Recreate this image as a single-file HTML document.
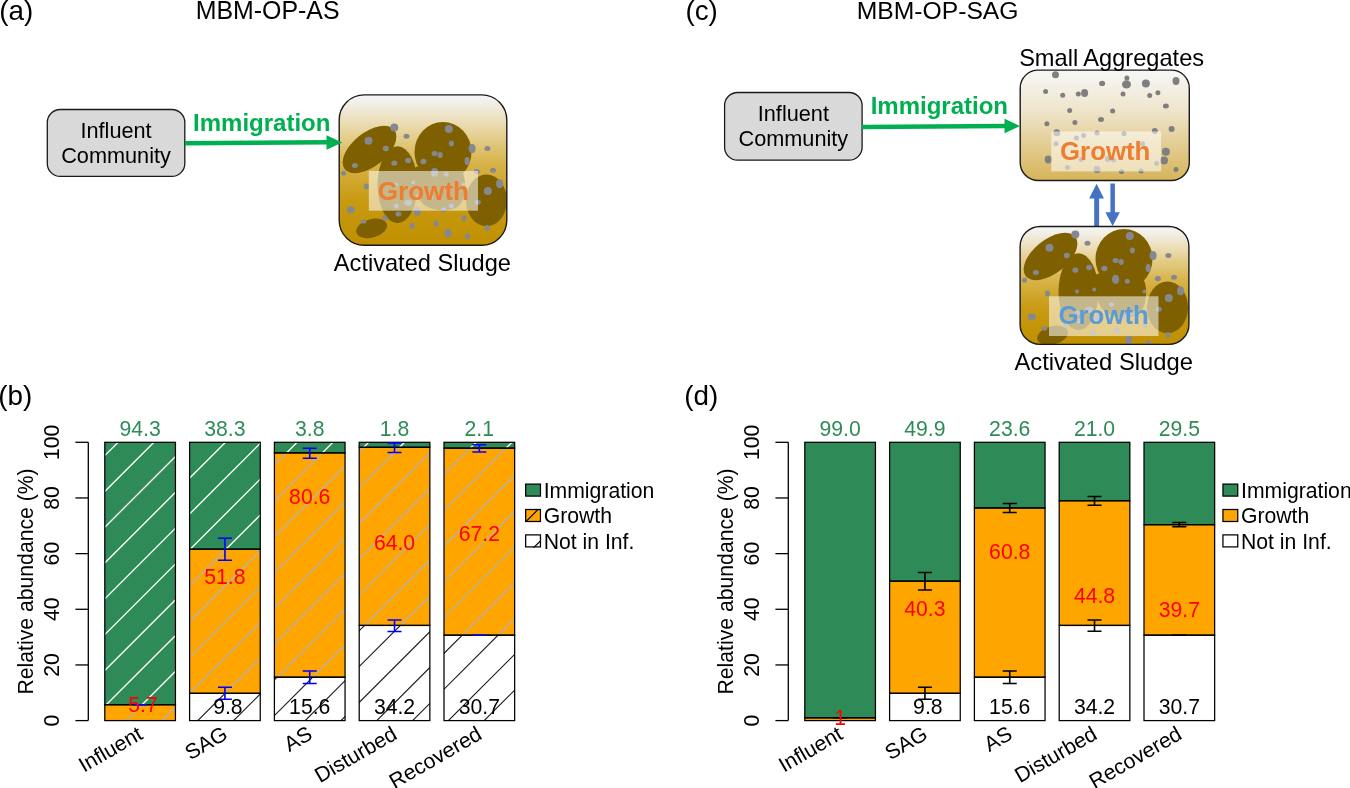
<!DOCTYPE html>
<html><head><meta charset="utf-8"><title>MBM-OP</title>
<style>html,body{margin:0;padding:0;background:#fff;}svg{display:block;will-change:transform;}text{font-family:"Liberation Sans",sans-serif;}</style>
</head><body>
<svg width="1350" height="788" viewBox="0 0 1350 788" font-family="Liberation Sans, sans-serif">
<rect width="1350" height="788" fill="#fff"/>

<defs>
<pattern id="hw" patternUnits="userSpaceOnUse" width="35.8" height="35.8" x="23.400" y="0">
<path d="M-35.8,35.8 L35.8,-35.8 M0,71.6 L71.6,0 M0,35.8 L35.8,0" stroke="#FFFFFF" stroke-width="1.3"/></pattern>
<pattern id="hg" patternUnits="userSpaceOnUse" width="35.8" height="35.8" x="23.400" y="0">
<path d="M-35.8,35.8 L35.8,-35.8 M0,71.6 L71.6,0 M0,35.8 L35.8,0" stroke="#B4B4B4" stroke-width="1.3"/></pattern>
<pattern id="hb" patternUnits="userSpaceOnUse" width="35.8" height="35.8" x="23.400" y="0">
<path d="M-35.8,35.8 L35.8,-35.8 M0,71.6 L71.6,0 M0,35.8 L35.8,0" stroke="#1A1A1A" stroke-width="1.2"/></pattern>
<linearGradient id="gAS" x1="0" y1="0" x2="0" y2="1">
<stop offset="0" stop-color="#F6F6F4"/><stop offset="0.06" stop-color="#F1EEE6"/><stop offset="0.18" stop-color="#EBDDB6"/><stop offset="0.45" stop-color="#D8B44A"/><stop offset="0.7" stop-color="#C89A12"/><stop offset="1" stop-color="#C09000"/>
</linearGradient>
<linearGradient id="gSA" x1="0" y1="0" x2="0" y2="1">
<stop offset="0" stop-color="#F7F7F7"/><stop offset="0.35" stop-color="#EFE6CE"/><stop offset="0.75" stop-color="#E0C785"/><stop offset="1" stop-color="#D6B459"/>
</linearGradient>
<clipPath id="clipA"><rect x="339.2" y="94.9" width="167.6" height="150.4" rx="25"/></clipPath>
<clipPath id="clipC"><rect x="1020.1" y="226.5" width="168.8" height="117.9" rx="20"/></clipPath>
<clipPath id="clipS"><rect x="1020.2" y="70.1" width="169.1" height="110.4" rx="18"/></clipPath>
<g id="sludge"><ellipse cx="397.5" cy="184.7" rx="20" ry="38.5" fill="#7F6000"/>
<path d="M415,168 C413.5,188 417,202 428,207 C436,211.5 450,211.5 457.5,207 C463,203 465.5,193 465,182 C464.5,172 459,165 450,162 Z" fill="#7F6000"/>
<ellipse cx="417.5" cy="173" rx="4" ry="6.5" fill="#7F6000"/>
<ellipse cx="443" cy="152" rx="28.5" ry="30" fill="#7F6000"/>
<ellipse cx="369.5" cy="149.5" rx="31.6" ry="16.9" transform="rotate(-38.5 369.5 149.5)" fill="#7F6000"/>
<ellipse cx="486.5" cy="200.4" rx="20.5" ry="25.8" fill="#7F6000"/>
<ellipse cx="371.6" cy="228.4" rx="15.8" ry="9.2" transform="rotate(-15 371.6 228.4)" fill="#7F6000"/>
<ellipse cx="394.3" cy="127.6" rx="4" ry="4" fill="#868890"/>
<ellipse cx="406.5" cy="136.3" rx="3" ry="2.5" fill="#868890"/>
<ellipse cx="368.5" cy="140.8" rx="4" ry="4" fill="#868890"/>
<ellipse cx="385.8" cy="148.5" rx="3" ry="2.7" fill="#868890"/>
<ellipse cx="354.9" cy="165.5" rx="3" ry="2.5" fill="#868890"/>
<ellipse cx="343.5" cy="173.2" rx="2.5" ry="2.5" fill="#868890"/>
<ellipse cx="394.3" cy="163.1" rx="3" ry="2.7" fill="#868890"/>
<ellipse cx="408.1" cy="160.5" rx="3" ry="2.7" fill="#868890"/>
<ellipse cx="423.4" cy="161.5" rx="3" ry="2.7" fill="#868890"/>
<ellipse cx="434.6" cy="153.4" rx="3" ry="2.5" fill="#868890"/>
<ellipse cx="440.2" cy="155" rx="2.5" ry="3" fill="#868890"/>
<ellipse cx="448.8" cy="129" rx="4" ry="4" fill="#868890"/>
<ellipse cx="451.4" cy="143.4" rx="2.5" ry="3" fill="#868890"/>
<ellipse cx="472.1" cy="148.5" rx="3.5" ry="4.5" fill="#868890"/>
<ellipse cx="487.4" cy="148.5" rx="3" ry="2.5" fill="#868890"/>
<ellipse cx="467.1" cy="161" rx="2.5" ry="4" fill="#868890"/>
<ellipse cx="493" cy="170.2" rx="3" ry="2.5" fill="#868890"/>
<ellipse cx="476.8" cy="171.6" rx="3" ry="2.7" fill="#868890"/>
<ellipse cx="499.6" cy="183.8" rx="3.5" ry="4.5" fill="#868890"/>
<ellipse cx="487.8" cy="191.1" rx="4" ry="4" fill="#868890"/>
<ellipse cx="477.8" cy="202.3" rx="3" ry="2.5" fill="#868890"/>
<ellipse cx="366.5" cy="186.4" rx="2.5" ry="3" fill="#868890"/>
<ellipse cx="350.8" cy="209.8" rx="4" ry="3.5" fill="#868890"/>
<ellipse cx="363.4" cy="221.6" rx="3" ry="2" fill="#868890"/>
<ellipse cx="384.8" cy="217.9" rx="2.5" ry="3" fill="#868890"/>
<ellipse cx="398.4" cy="213.9" rx="3" ry="2.5" fill="#868890"/>
<ellipse cx="417.3" cy="211.2" rx="3.5" ry="4.5" fill="#868890"/>
<ellipse cx="412.2" cy="226" rx="2.5" ry="3" fill="#868890"/>
<ellipse cx="436.2" cy="223.6" rx="2.5" ry="3" fill="#868890"/>
<ellipse cx="447.8" cy="233.2" rx="3.5" ry="4.5" fill="#868890"/>
<ellipse cx="464" cy="218.3" rx="2.5" ry="3" fill="#868890"/>
<ellipse cx="467.5" cy="236.6" rx="2.5" ry="3" fill="#868890"/>
<ellipse cx="487" cy="228.1" rx="2.5" ry="3" fill="#868890"/>
<ellipse cx="434.6" cy="172.2" rx="3.5" ry="4.5" fill="#868890"/>
<ellipse cx="446.3" cy="174.3" rx="2.5" ry="2.5" fill="#868890"/>
<ellipse cx="408.1" cy="202.7" rx="4" ry="3" fill="#868890"/>
<ellipse cx="396.4" cy="206.1" rx="2.5" ry="2.5" fill="#868890"/>
<ellipse cx="451.2" cy="206.1" rx="2.5" ry="2.5" fill="#868890"/>
<ellipse cx="443.7" cy="209.8" rx="2.5" ry="2.5" fill="#868890"/>
<ellipse cx="463.4" cy="184.4" rx="2" ry="2" fill="#868890"/>
<ellipse cx="413.2" cy="182.4" rx="2" ry="2" fill="#868890"/>
<ellipse cx="396" cy="184.4" rx="2" ry="2" fill="#868890"/>
<ellipse cx="430.5" cy="197.6" rx="2.5" ry="2.5" fill="#868890"/></g>
<marker id="ag" markerWidth="10" markerHeight="10" refX="0" refY="0"/>
</defs>
<text x="-0.8" y="20.4" font-size="27.8">(a)</text>
<text x="195.7" y="19" font-size="24.9">MBM-OP-AS</text>
<rect x="47.3" y="109.5" width="137.5" height="66.9" rx="13" fill="#D9D9D9" stroke="#1A1A1A" stroke-width="1.3"/>
<text x="116.05" y="137.7" text-anchor="middle" font-size="21.7">Influent</text>
<text x="116.05" y="162.6" text-anchor="middle" font-size="21.7">Community</text>
<text x="193.1" y="130.9" font-size="24" font-weight="bold" fill="#00B050">Immigration</text>
<rect x="339.2" y="94.9" width="167.6" height="150.4" rx="25" fill="url(#gAS)"/>
<g clip-path="url(#clipA)"><use href="#sludge"/></g>
<rect x="368.8" y="171" width="109.2" height="39.7" fill="#FFFFFF" fill-opacity="0.55"/>
<text x="423.4" y="200" text-anchor="middle" font-size="26.1" font-weight="bold" fill="#ED7D31">Growth</text>
<rect x="339.2" y="94.9" width="167.6" height="150.4" rx="25" fill="none" stroke="#1A1A1A" stroke-width="1.4"/>
<text x="422.4" y="270.8" text-anchor="middle" font-size="23.6">Activated Sludge</text>
<path d="M185,143.2 L327,142.3" stroke="#00B050" stroke-width="4.6"/>
<path d="M326.5,135.2 L342.2,142.4 L326.5,149.8Z" fill="#00B050"/>
<text x="685.4" y="20.4" font-size="27.8">(c)</text>
<text x="856.7" y="18.9" font-size="24.7">MBM-OP-SAG</text>
<rect x="724.6" y="92.5" width="137.5" height="67.7" rx="13" fill="#D9D9D9" stroke="#1A1A1A" stroke-width="1.3"/>
<text x="793.35" y="121.2" text-anchor="middle" font-size="21.7">Influent</text>
<text x="793.35" y="146.2" text-anchor="middle" font-size="21.7">Community</text>
<text x="870.7" y="114.4" font-size="24" font-weight="bold" fill="#00B050">Immigration</text>
<rect x="1020.2" y="70.1" width="169.1" height="110.4" rx="18" fill="url(#gSA)"/>
<g clip-path="url(#clipS)"><ellipse cx="1055.5" cy="74.8" rx="3.5" ry="3.5" fill="#7F7F7F"/><ellipse cx="1045.6" cy="91.4" rx="2.5" ry="2.5" fill="#7F7F7F"/><ellipse cx="1062.7" cy="95.2" rx="2.5" ry="2.5" fill="#7F7F7F"/><ellipse cx="1078.3" cy="93.9" rx="2.5" ry="2.5" fill="#7F7F7F"/><ellipse cx="1084.6" cy="92.9" rx="3.5" ry="4" fill="#7F7F7F"/><ellipse cx="1102.1" cy="83.4" rx="3" ry="2.7" fill="#7F7F7F"/><ellipse cx="1126.9" cy="78.1" rx="2.5" ry="2.5" fill="#7F7F7F"/><ellipse cx="1126.5" cy="84.4" rx="4.5" ry="4.2" fill="#7F7F7F"/><ellipse cx="1145.9" cy="83.4" rx="4" ry="4" fill="#7F7F7F"/><ellipse cx="1176" cy="80.9" rx="3.5" ry="4" fill="#7F7F7F"/><ellipse cx="1123" cy="93.9" rx="2.5" ry="2.5" fill="#7F7F7F"/><ellipse cx="1149.7" cy="95.6" rx="2.5" ry="2.5" fill="#7F7F7F"/><ellipse cx="1157.9" cy="92.7" rx="2.5" ry="2.5" fill="#7F7F7F"/><ellipse cx="1165.9" cy="105.9" rx="3" ry="2.5" fill="#7F7F7F"/><ellipse cx="1069.7" cy="110.4" rx="2.5" ry="2.5" fill="#7F7F7F"/><ellipse cx="1112.6" cy="111" rx="2.5" ry="2.5" fill="#7F7F7F"/><ellipse cx="1046.9" cy="123.8" rx="2.5" ry="2.5" fill="#7F7F7F"/><ellipse cx="1074.9" cy="122.4" rx="2.5" ry="2.5" fill="#7F7F7F"/><ellipse cx="1101" cy="119.6" rx="3" ry="2.5" fill="#7F7F7F"/><ellipse cx="1171.6" cy="129.1" rx="3" ry="3" fill="#7F7F7F"/><ellipse cx="1154.8" cy="131" rx="3" ry="3" fill="#7F7F7F"/><ellipse cx="1056.8" cy="132.7" rx="3.5" ry="3.5" fill="#7F7F7F"/><ellipse cx="1165.9" cy="151.8" rx="4" ry="4" fill="#7F7F7F"/><ellipse cx="1164" cy="160.5" rx="4" ry="4" fill="#7F7F7F"/><ellipse cx="1048.2" cy="159.6" rx="3.5" ry="4" fill="#7F7F7F"/><ellipse cx="1176" cy="169.5" rx="2.5" ry="2.5" fill="#7F7F7F"/><ellipse cx="1121.5" cy="171.4" rx="2.5" ry="2.5" fill="#7F7F7F"/><ellipse cx="1141.1" cy="171" rx="2.5" ry="2.5" fill="#7F7F7F"/><ellipse cx="1097" cy="169.5" rx="3.5" ry="3.5" fill="#7F7F7F"/><ellipse cx="1076.4" cy="138.1" rx="2.5" ry="2.5" fill="#7F7F7F"/><ellipse cx="1083.6" cy="135.6" rx="2.5" ry="2.5" fill="#7F7F7F"/><ellipse cx="1097" cy="133" rx="2.5" ry="2.5" fill="#7F7F7F"/><ellipse cx="1124" cy="133.7" rx="2.5" ry="2.5" fill="#7F7F7F"/><ellipse cx="1056" cy="143.8" rx="2.5" ry="2.5" fill="#7F7F7F"/><ellipse cx="1067.5" cy="167.6" rx="2.5" ry="2.5" fill="#7F7F7F"/><ellipse cx="1081" cy="159.6" rx="2.5" ry="2.5" fill="#7F7F7F"/><ellipse cx="1107.8" cy="159" rx="3" ry="3" fill="#7F7F7F"/><ellipse cx="1113.5" cy="160" rx="2.5" ry="2.5" fill="#7F7F7F"/><ellipse cx="1156.6" cy="163.4" rx="2.5" ry="2.5" fill="#7F7F7F"/><ellipse cx="1142.6" cy="143.8" rx="2.5" ry="2.5" fill="#7F7F7F"/></g>
<rect x="1051.3" y="131.4" width="109.8" height="40" fill="#FFFFFF" fill-opacity="0.55"/>
<text x="1105.2" y="160" text-anchor="middle" font-size="25.8" font-weight="bold" fill="#ED7D31">Growth</text>
<rect x="1020.2" y="70.1" width="169.1" height="110.4" rx="18" fill="none" stroke="#1A1A1A" stroke-width="1.4"/>
<text x="1111.6" y="66.4" text-anchor="middle" font-size="23.6">Small Aggregates</text>
<path d="M862,127 L1005,126" stroke="#00B050" stroke-width="4.6"/>
<path d="M1004.5,118.8 L1020,126 L1004.5,133.3Z" fill="#00B050"/>
<path d="M1094.2,226.1 V198.4 H1089.1 L1096.6,183.8 L1104,198.4 H1099.1 V226.1Z" fill="#4472C4"/>
<path d="M1110.4,183.5 V212.2 H1105.4 L1112.6,226.1 L1119.9,212.2 H1114.9 V183.5Z" fill="#4472C4"/>
<rect x="1020.1" y="226.5" width="168.8" height="117.9" rx="20" fill="url(#gAS)"/>
<g clip-path="url(#clipC)"><use href="#sludge" transform="translate(681,107)"/></g>
<rect x="1049" y="296.3" width="109.5" height="39.7" fill="#FFFFFF" fill-opacity="0.55"/>
<text x="1103.6" y="323.9" text-anchor="middle" font-size="25.8" font-weight="bold" fill="#5B9BD5">Growth</text>
<rect x="1020.1" y="226.5" width="168.8" height="117.9" rx="20" fill="none" stroke="#1A1A1A" stroke-width="1.4"/>
<text x="1103.7" y="370.1" text-anchor="middle" font-size="23.8">Activated Sludge</text>
<text x="-1.7" y="404.8" font-size="27.8">(b)</text>
<text x="684.3" y="404.8" font-size="27.8">(d)</text>
<path d="M88.3,442.3V720.6" stroke="#000" stroke-width="1.3" fill="none"/>
<path d="M75.39999999999999,720.60H88.3" stroke="#000" stroke-width="1.3"/>
<text transform="translate(58.6,720.60) rotate(-90)" text-anchor="middle" font-size="21.2">0</text>
<path d="M75.39999999999999,664.94H88.3" stroke="#000" stroke-width="1.3"/>
<text transform="translate(58.6,664.94) rotate(-90)" text-anchor="middle" font-size="21.2">20</text>
<path d="M75.39999999999999,609.28H88.3" stroke="#000" stroke-width="1.3"/>
<text transform="translate(58.6,609.28) rotate(-90)" text-anchor="middle" font-size="21.2">40</text>
<path d="M75.39999999999999,553.62H88.3" stroke="#000" stroke-width="1.3"/>
<text transform="translate(58.6,553.62) rotate(-90)" text-anchor="middle" font-size="21.2">60</text>
<path d="M75.39999999999999,497.96H88.3" stroke="#000" stroke-width="1.3"/>
<text transform="translate(58.6,497.96) rotate(-90)" text-anchor="middle" font-size="21.2">80</text>
<path d="M75.39999999999999,442.30H88.3" stroke="#000" stroke-width="1.3"/>
<text transform="translate(58.6,442.30) rotate(-90)" text-anchor="middle" font-size="21.2">100</text>
<text transform="translate(33.2,581.4) rotate(-90)" text-anchor="middle" font-size="21.2">Relative abundance (%)</text>
<rect x="104.80" y="704.74" width="70.65" height="15.86" fill="#FFA500"/>
<clipPath id="hc1"><rect x="104.80" y="704.74" width="70.65" height="15.86"/></clipPath><path clip-path="url(#hc1)" d="M52.60,722.60L72.46,702.74M88.40,722.60L108.26,702.74M124.20,722.60L144.06,702.74M160.00,722.60L179.86,702.74M195.80,722.60L215.66,702.74" stroke="#B2B2B2" stroke-width="1.3" fill="none"/>
<rect x="104.80" y="442.30" width="70.65" height="262.44" fill="#2E8B57"/>
<clipPath id="hc2"><rect x="104.80" y="442.30" width="70.65" height="262.44"/></clipPath><path clip-path="url(#hc2)" d="M-182.14,706.74L84.30,440.30M-146.34,706.74L120.10,440.30M-110.54,706.74L155.90,440.30M-74.74,706.74L191.70,440.30M-38.94,706.74L227.50,440.30M-3.14,706.74L263.30,440.30M32.66,706.74L299.10,440.30M68.46,706.74L334.90,440.30M104.26,706.74L370.70,440.30M140.06,706.74L406.50,440.30M175.86,706.74L442.30,440.30" stroke="#FFFFFF" stroke-width="1.35" fill="none"/>
<rect x="104.80" y="704.74" width="70.65" height="15.86" fill="none" stroke="#000" stroke-width="1.25"/>
<rect x="104.80" y="442.30" width="70.65" height="262.44" fill="none" stroke="#000" stroke-width="1.25"/>
<rect x="189.60" y="693.33" width="70.65" height="27.27" fill="#FFFFFF"/>
<clipPath id="hc3"><rect x="189.60" y="693.33" width="70.65" height="27.27"/></clipPath><path clip-path="url(#hc3)" d="M160.00,722.60L191.27,691.33M195.80,722.60L227.07,691.33M231.60,722.60L262.87,691.33M267.40,722.60L298.67,691.33" stroke="#1E1E1E" stroke-width="1.15" fill="none"/>
<rect x="189.60" y="549.17" width="70.65" height="144.16" fill="#FFA500"/>
<clipPath id="hc4"><rect x="189.60" y="549.17" width="70.65" height="144.16"/></clipPath><path clip-path="url(#hc4)" d="M8.27,695.33L156.43,547.17M44.07,695.33L192.23,547.17M79.87,695.33L228.03,547.17M115.67,695.33L263.83,547.17M151.47,695.33L299.63,547.17M187.27,695.33L335.43,547.17M223.07,695.33L371.23,547.17M258.87,695.33L407.03,547.17" stroke="#B2B2B2" stroke-width="1.3" fill="none"/>
<rect x="189.60" y="442.30" width="70.65" height="106.87" fill="#2E8B57"/>
<clipPath id="hc5"><rect x="189.60" y="442.30" width="70.65" height="106.87"/></clipPath><path clip-path="url(#hc5)" d="M45.03,551.17L155.90,440.30M80.83,551.17L191.70,440.30M116.63,551.17L227.50,440.30M152.43,551.17L263.30,440.30M188.23,551.17L299.10,440.30M224.03,551.17L334.90,440.30M259.83,551.17L370.70,440.30" stroke="#FFFFFF" stroke-width="1.35" fill="none"/>
<rect x="189.60" y="693.33" width="70.65" height="27.27" fill="none" stroke="#000" stroke-width="1.25"/>
<rect x="189.60" y="549.17" width="70.65" height="144.16" fill="none" stroke="#000" stroke-width="1.25"/>
<rect x="189.60" y="442.30" width="70.65" height="106.87" fill="none" stroke="#000" stroke-width="1.25"/>
<rect x="274.40" y="677.19" width="70.65" height="43.41" fill="#FFFFFF"/>
<clipPath id="hc6"><rect x="274.40" y="677.19" width="70.65" height="43.41"/></clipPath><path clip-path="url(#hc6)" d="M195.80,722.60L243.21,675.19M231.60,722.60L279.01,675.19M267.40,722.60L314.81,675.19M303.20,722.60L350.61,675.19M339.00,722.60L386.41,675.19M374.80,722.60L422.21,675.19" stroke="#1E1E1E" stroke-width="1.15" fill="none"/>
<rect x="274.40" y="452.88" width="70.65" height="224.31" fill="#FFA500"/>
<clipPath id="hc7"><rect x="274.40" y="452.88" width="70.65" height="224.31"/></clipPath><path clip-path="url(#hc7)" d="M24.41,679.19L252.72,450.88M60.21,679.19L288.52,450.88M96.01,679.19L324.32,450.88M131.81,679.19L360.12,450.88M167.61,679.19L395.92,450.88M203.41,679.19L431.72,450.88M239.21,679.19L467.52,450.88M275.01,679.19L503.32,450.88M310.81,679.19L539.12,450.88M346.61,679.19L574.92,450.88" stroke="#B2B2B2" stroke-width="1.3" fill="none"/>
<rect x="274.40" y="442.30" width="70.65" height="10.58" fill="#2E8B57"/>
<clipPath id="hc8"><rect x="274.40" y="442.30" width="70.65" height="10.58"/></clipPath><path clip-path="url(#hc8)" d="M248.72,454.88L263.30,440.30M284.52,454.88L299.10,440.30M320.32,454.88L334.90,440.30M356.12,454.88L370.70,440.30" stroke="#FFFFFF" stroke-width="1.35" fill="none"/>
<rect x="274.40" y="677.19" width="70.65" height="43.41" fill="none" stroke="#000" stroke-width="1.25"/>
<rect x="274.40" y="452.88" width="70.65" height="224.31" fill="none" stroke="#000" stroke-width="1.25"/>
<rect x="274.40" y="442.30" width="70.65" height="10.58" fill="none" stroke="#000" stroke-width="1.25"/>
<rect x="359.20" y="625.42" width="70.65" height="95.18" fill="#FFFFFF"/>
<clipPath id="hc9"><rect x="359.20" y="625.42" width="70.65" height="95.18"/></clipPath><path clip-path="url(#hc9)" d="M231.60,722.60L330.78,623.42M267.40,722.60L366.58,623.42M303.20,722.60L402.38,623.42M339.00,722.60L438.18,623.42M374.80,722.60L473.98,623.42M410.60,722.60L509.78,623.42M446.40,722.60L545.58,623.42" stroke="#1E1E1E" stroke-width="1.15" fill="none"/>
<rect x="359.20" y="447.31" width="70.65" height="178.11" fill="#FFA500"/>
<clipPath id="hc10"><rect x="359.20" y="447.31" width="70.65" height="178.11"/></clipPath><path clip-path="url(#hc10)" d="M147.78,627.42L329.89,445.31M183.58,627.42L365.69,445.31M219.38,627.42L401.49,445.31M255.18,627.42L437.29,445.31M290.98,627.42L473.09,445.31M326.78,627.42L508.89,445.31M362.58,627.42L544.69,445.31M398.38,627.42L580.49,445.31M434.18,627.42L616.29,445.31" stroke="#B2B2B2" stroke-width="1.3" fill="none"/>
<rect x="359.20" y="442.30" width="70.65" height="5.01" fill="#2E8B57"/>
<clipPath id="hc11"><rect x="359.20" y="442.30" width="70.65" height="5.01"/></clipPath><path clip-path="url(#hc11)" d="M325.89,449.31L334.90,440.30M361.69,449.31L370.70,440.30M397.49,449.31L406.50,440.30M433.29,449.31L442.30,440.30" stroke="#FFFFFF" stroke-width="1.35" fill="none"/>
<rect x="359.20" y="625.42" width="70.65" height="95.18" fill="none" stroke="#000" stroke-width="1.25"/>
<rect x="359.20" y="447.31" width="70.65" height="178.11" fill="none" stroke="#000" stroke-width="1.25"/>
<rect x="359.20" y="442.30" width="70.65" height="5.01" fill="none" stroke="#000" stroke-width="1.25"/>
<rect x="444.00" y="635.16" width="70.65" height="85.44" fill="#FFFFFF"/>
<clipPath id="hc12"><rect x="444.00" y="635.16" width="70.65" height="85.44"/></clipPath><path clip-path="url(#hc12)" d="M339.00,722.60L428.44,633.16M374.80,722.60L464.24,633.16M410.60,722.60L500.04,633.16M446.40,722.60L535.84,633.16M482.20,722.60L571.64,633.16M518.00,722.60L607.44,633.16" stroke="#1E1E1E" stroke-width="1.15" fill="none"/>
<rect x="444.00" y="448.14" width="70.65" height="187.02" fill="#FFA500"/>
<clipPath id="hc13"><rect x="444.00" y="448.14" width="70.65" height="187.02"/></clipPath><path clip-path="url(#hc13)" d="M245.44,637.16L436.46,446.14M281.24,637.16L472.26,446.14M317.04,637.16L508.06,446.14M352.84,637.16L543.86,446.14M388.64,637.16L579.66,446.14M424.44,637.16L615.46,446.14M460.24,637.16L651.26,446.14M496.04,637.16L687.06,446.14M531.84,637.16L722.86,446.14" stroke="#B2B2B2" stroke-width="1.3" fill="none"/>
<rect x="444.00" y="442.30" width="70.65" height="5.84" fill="#2E8B57"/>
<clipPath id="hc14"><rect x="444.00" y="442.30" width="70.65" height="5.84"/></clipPath><path clip-path="url(#hc14)" d="M432.46,450.14L442.30,440.30M468.26,450.14L478.10,440.30M504.06,450.14L513.90,440.30M539.86,450.14L549.70,440.30" stroke="#FFFFFF" stroke-width="1.35" fill="none"/>
<rect x="444.00" y="635.16" width="70.65" height="85.44" fill="none" stroke="#000" stroke-width="1.25"/>
<rect x="444.00" y="448.14" width="70.65" height="187.02" fill="none" stroke="#000" stroke-width="1.25"/>
<rect x="444.00" y="442.30" width="70.65" height="5.84" fill="none" stroke="#000" stroke-width="1.25"/>
<path d="M133.12,704.74H147.12" stroke="#0000FF" stroke-width="1.5"/>
<path d="M224.93,538.25V560.25" stroke="#0000FF" stroke-width="1.6"/>
<path d="M217.93,538.25H231.93M217.93,560.25H231.93" stroke="#0000FF" stroke-width="1.5"/>
<path d="M224.93,687.30V699.30" stroke="#0000FF" stroke-width="1.6"/>
<path d="M217.93,687.30H231.93M217.93,699.30H231.93" stroke="#0000FF" stroke-width="1.5"/>
<path d="M309.72,448.20V458.20" stroke="#0000FF" stroke-width="1.6"/>
<path d="M302.72,448.20H316.72M302.72,458.20H316.72" stroke="#0000FF" stroke-width="1.5"/>
<path d="M309.72,671.10V683.50" stroke="#0000FF" stroke-width="1.6"/>
<path d="M302.72,671.10H316.72M302.72,683.50H316.72" stroke="#0000FF" stroke-width="1.5"/>
<path d="M394.52,442.90V452.40" stroke="#0000FF" stroke-width="1.6"/>
<path d="M387.52,442.90H401.52M387.52,452.40H401.52" stroke="#0000FF" stroke-width="1.5"/>
<path d="M394.52,619.90V631.50" stroke="#0000FF" stroke-width="1.6"/>
<path d="M387.52,619.90H401.52M387.52,631.50H401.52" stroke="#0000FF" stroke-width="1.5"/>
<path d="M479.32,444.80V451.90" stroke="#0000FF" stroke-width="1.6"/>
<path d="M472.32,444.80H486.32M472.32,451.90H486.32" stroke="#0000FF" stroke-width="1.5"/>
<path d="M472.32,635.20H486.32" stroke="#0000FF" stroke-width="1.5"/>
<text x="140.12" y="435.90" text-anchor="middle" font-size="21.2" fill="#2E8B57">94.3</text>
<text x="224.93" y="435.90" text-anchor="middle" font-size="21.2" fill="#2E8B57">38.3</text>
<text x="309.72" y="435.90" text-anchor="middle" font-size="21.2" fill="#2E8B57">3.8</text>
<text x="394.52" y="435.90" text-anchor="middle" font-size="21.2" fill="#2E8B57">1.8</text>
<text x="479.32" y="435.90" text-anchor="middle" font-size="21.2" fill="#2E8B57">2.1</text>
<text x="140.12" y="712.04" text-anchor="middle" font-size="21.2" fill="#FF0000" xml:space="preserve"> 5.7</text>
<text x="224.93" y="583.74" text-anchor="middle" font-size="21.2" fill="#FF0000" xml:space="preserve">51.8</text>
<text x="309.72" y="503.59" text-anchor="middle" font-size="21.2" fill="#FF0000" xml:space="preserve">80.6</text>
<text x="394.52" y="549.79" text-anchor="middle" font-size="21.2" fill="#FF0000" xml:space="preserve">64.0</text>
<text x="479.32" y="540.88" text-anchor="middle" font-size="21.2" fill="#FF0000" xml:space="preserve">67.2</text>
<text x="224.93" y="713.99" text-anchor="middle" font-size="21.2" fill="#000" xml:space="preserve"> 9.8</text>
<text x="309.72" y="713.99" text-anchor="middle" font-size="21.2" fill="#000" xml:space="preserve">15.6</text>
<text x="394.52" y="713.99" text-anchor="middle" font-size="21.2" fill="#000" xml:space="preserve">34.2</text>
<text x="479.32" y="713.99" text-anchor="middle" font-size="21.2" fill="#000" xml:space="preserve">30.7</text>
<text transform="translate(144.12,738) rotate(-30)" text-anchor="end" font-size="21.2">Influent</text>
<text transform="translate(228.93,738) rotate(-30)" text-anchor="end" font-size="21.2">SAG</text>
<text transform="translate(313.72,738) rotate(-30)" text-anchor="end" font-size="21.2">AS</text>
<text transform="translate(398.52,738) rotate(-30)" text-anchor="end" font-size="21.2">Disturbed</text>
<text transform="translate(483.32,738) rotate(-30)" text-anchor="end" font-size="21.2">Recovered</text>
<rect x="525.65" y="484.10" width="14.8" height="12" fill="#2E8B57" stroke="#000" stroke-width="1.25"/>
<text x="543.70" y="497.80" font-size="21.2">Immigration</text>
<rect x="525.65" y="509.50" width="14.8" height="12" fill="#FFA500" stroke="#000" stroke-width="1.25"/>
<text x="543.70" y="523.20" font-size="21.2">Growth</text>
<rect x="525.65" y="534.90" width="14.8" height="12" fill="#FFFFFF" stroke="#000" stroke-width="1.25"/>
<text x="543.70" y="548.60" font-size="21.2">Not in Inf.</text>
<clipPath id="lc1"><rect x="525.05" y="508.90" width="16" height="13.1"/></clipPath>
<path clip-path="url(#lc1)" d="M520.05,527.50L550.05,497.50" stroke="#000" stroke-width="1.2"/>
<clipPath id="lc2"><rect x="525.05" y="534.30" width="16" height="13.1"/></clipPath>
<path clip-path="url(#lc2)" d="M520.05,561.30L550.05,531.30" stroke="#000" stroke-width="1.2"/>
<path d="M788.3,442.3V720.6" stroke="#000" stroke-width="1.3" fill="none"/>
<path d="M775.4,720.60H788.3" stroke="#000" stroke-width="1.3"/>
<text transform="translate(758.6,720.60) rotate(-90)" text-anchor="middle" font-size="21.2">0</text>
<path d="M775.4,664.94H788.3" stroke="#000" stroke-width="1.3"/>
<text transform="translate(758.6,664.94) rotate(-90)" text-anchor="middle" font-size="21.2">20</text>
<path d="M775.4,609.28H788.3" stroke="#000" stroke-width="1.3"/>
<text transform="translate(758.6,609.28) rotate(-90)" text-anchor="middle" font-size="21.2">40</text>
<path d="M775.4,553.62H788.3" stroke="#000" stroke-width="1.3"/>
<text transform="translate(758.6,553.62) rotate(-90)" text-anchor="middle" font-size="21.2">60</text>
<path d="M775.4,497.96H788.3" stroke="#000" stroke-width="1.3"/>
<text transform="translate(758.6,497.96) rotate(-90)" text-anchor="middle" font-size="21.2">80</text>
<path d="M775.4,442.30H788.3" stroke="#000" stroke-width="1.3"/>
<text transform="translate(758.6,442.30) rotate(-90)" text-anchor="middle" font-size="21.2">100</text>
<text transform="translate(733.2,581.4) rotate(-90)" text-anchor="middle" font-size="21.2">Relative abundance (%)</text>
<rect x="804.80" y="717.82" width="70.65" height="2.78" fill="#FFA500"/>
<rect x="804.80" y="442.30" width="70.65" height="275.52" fill="#2E8B57"/>
<rect x="804.80" y="717.82" width="70.65" height="2.78" fill="none" stroke="#000" stroke-width="1.25"/>
<rect x="804.80" y="442.30" width="70.65" height="275.52" fill="none" stroke="#000" stroke-width="1.25"/>
<rect x="889.60" y="693.33" width="70.65" height="27.27" fill="#FFFFFF"/>
<rect x="889.60" y="581.17" width="70.65" height="112.15" fill="#FFA500"/>
<rect x="889.60" y="442.30" width="70.65" height="138.87" fill="#2E8B57"/>
<rect x="889.60" y="693.33" width="70.65" height="27.27" fill="none" stroke="#000" stroke-width="1.25"/>
<rect x="889.60" y="581.17" width="70.65" height="112.15" fill="none" stroke="#000" stroke-width="1.25"/>
<rect x="889.60" y="442.30" width="70.65" height="138.87" fill="none" stroke="#000" stroke-width="1.25"/>
<rect x="974.40" y="677.19" width="70.65" height="43.41" fill="#FFFFFF"/>
<rect x="974.40" y="507.98" width="70.65" height="169.21" fill="#FFA500"/>
<rect x="974.40" y="442.30" width="70.65" height="65.68" fill="#2E8B57"/>
<rect x="974.40" y="677.19" width="70.65" height="43.41" fill="none" stroke="#000" stroke-width="1.25"/>
<rect x="974.40" y="507.98" width="70.65" height="169.21" fill="none" stroke="#000" stroke-width="1.25"/>
<rect x="974.40" y="442.30" width="70.65" height="65.68" fill="none" stroke="#000" stroke-width="1.25"/>
<rect x="1059.20" y="625.42" width="70.65" height="95.18" fill="#FFFFFF"/>
<rect x="1059.20" y="500.74" width="70.65" height="124.68" fill="#FFA500"/>
<rect x="1059.20" y="442.30" width="70.65" height="58.44" fill="#2E8B57"/>
<rect x="1059.20" y="625.42" width="70.65" height="95.18" fill="none" stroke="#000" stroke-width="1.25"/>
<rect x="1059.20" y="500.74" width="70.65" height="124.68" fill="none" stroke="#000" stroke-width="1.25"/>
<rect x="1059.20" y="442.30" width="70.65" height="58.44" fill="none" stroke="#000" stroke-width="1.25"/>
<rect x="1144.00" y="635.16" width="70.65" height="85.44" fill="#FFFFFF"/>
<rect x="1144.00" y="524.68" width="70.65" height="110.49" fill="#FFA500"/>
<rect x="1144.00" y="442.30" width="70.65" height="82.38" fill="#2E8B57"/>
<rect x="1144.00" y="635.16" width="70.65" height="85.44" fill="none" stroke="#000" stroke-width="1.25"/>
<rect x="1144.00" y="524.68" width="70.65" height="110.49" fill="none" stroke="#000" stroke-width="1.25"/>
<rect x="1144.00" y="442.30" width="70.65" height="82.38" fill="none" stroke="#000" stroke-width="1.25"/>
<path d="M833.12,717.82H847.12" stroke="#000000" stroke-width="1.5"/>
<path d="M924.92,572.60V590.00" stroke="#000000" stroke-width="1.6"/>
<path d="M917.92,572.60H931.92M917.92,590.00H931.92" stroke="#000000" stroke-width="1.5"/>
<path d="M924.92,687.30V699.30" stroke="#000000" stroke-width="1.6"/>
<path d="M917.92,687.30H931.92M917.92,699.30H931.92" stroke="#000000" stroke-width="1.5"/>
<path d="M1009.73,503.60V512.40" stroke="#000000" stroke-width="1.6"/>
<path d="M1002.73,503.60H1016.73M1002.73,512.40H1016.73" stroke="#000000" stroke-width="1.5"/>
<path d="M1009.73,671.10V683.50" stroke="#000000" stroke-width="1.6"/>
<path d="M1002.73,671.10H1016.73M1002.73,683.50H1016.73" stroke="#000000" stroke-width="1.5"/>
<path d="M1094.52,496.50V505.30" stroke="#000000" stroke-width="1.6"/>
<path d="M1087.52,496.50H1101.52M1087.52,505.30H1101.52" stroke="#000000" stroke-width="1.5"/>
<path d="M1094.52,620.05V631.35" stroke="#000000" stroke-width="1.6"/>
<path d="M1087.52,620.05H1101.52M1087.52,631.35H1101.52" stroke="#000000" stroke-width="1.5"/>
<path d="M1179.33,522.50V526.80" stroke="#000000" stroke-width="1.6"/>
<path d="M1172.33,522.50H1186.33M1172.33,526.80H1186.33" stroke="#000000" stroke-width="1.5"/>
<path d="M1172.33,635.20H1186.33" stroke="#000000" stroke-width="1.5"/>
<text x="840.12" y="435.90" text-anchor="middle" font-size="21.2" fill="#2E8B57">99.0</text>
<text x="924.92" y="435.90" text-anchor="middle" font-size="21.2" fill="#2E8B57">49.9</text>
<text x="1009.73" y="435.90" text-anchor="middle" font-size="21.2" fill="#2E8B57">23.6</text>
<text x="1094.52" y="435.90" text-anchor="middle" font-size="21.2" fill="#2E8B57">21.0</text>
<text x="1179.33" y="435.90" text-anchor="middle" font-size="21.2" fill="#2E8B57">29.5</text>
<text x="840.12" y="725.12" text-anchor="middle" font-size="21.2" fill="#FF0000" xml:space="preserve">1</text>
<text x="924.92" y="615.75" text-anchor="middle" font-size="21.2" fill="#FF0000" xml:space="preserve">40.3</text>
<text x="1009.73" y="558.69" text-anchor="middle" font-size="21.2" fill="#FF0000" xml:space="preserve">60.8</text>
<text x="1094.52" y="603.22" text-anchor="middle" font-size="21.2" fill="#FF0000" xml:space="preserve">44.8</text>
<text x="1179.33" y="617.41" text-anchor="middle" font-size="21.2" fill="#FF0000" xml:space="preserve">39.7</text>
<text x="924.92" y="713.99" text-anchor="middle" font-size="21.2" fill="#000" xml:space="preserve"> 9.8</text>
<text x="1009.73" y="713.99" text-anchor="middle" font-size="21.2" fill="#000" xml:space="preserve">15.6</text>
<text x="1094.52" y="713.99" text-anchor="middle" font-size="21.2" fill="#000" xml:space="preserve">34.2</text>
<text x="1179.33" y="713.99" text-anchor="middle" font-size="21.2" fill="#000" xml:space="preserve">30.7</text>
<text transform="translate(844.12,738) rotate(-30)" text-anchor="end" font-size="21.2">Influent</text>
<text transform="translate(928.92,738) rotate(-30)" text-anchor="end" font-size="21.2">SAG</text>
<text transform="translate(1013.73,738) rotate(-30)" text-anchor="end" font-size="21.2">AS</text>
<text transform="translate(1098.52,738) rotate(-30)" text-anchor="end" font-size="21.2">Disturbed</text>
<text transform="translate(1183.33,738) rotate(-30)" text-anchor="end" font-size="21.2">Recovered</text>
<rect x="1222.95" y="484.10" width="14.8" height="12" fill="#2E8B57" stroke="#000" stroke-width="1.25"/>
<text x="1241.00" y="497.80" font-size="21.2">Immigration</text>
<rect x="1222.95" y="509.50" width="14.8" height="12" fill="#FFA500" stroke="#000" stroke-width="1.25"/>
<text x="1241.00" y="523.20" font-size="21.2">Growth</text>
<rect x="1222.95" y="534.90" width="14.8" height="12" fill="#FFFFFF" stroke="#000" stroke-width="1.25"/>
<text x="1241.00" y="548.60" font-size="21.2">Not in Inf.</text>
</svg>
</body></html>
